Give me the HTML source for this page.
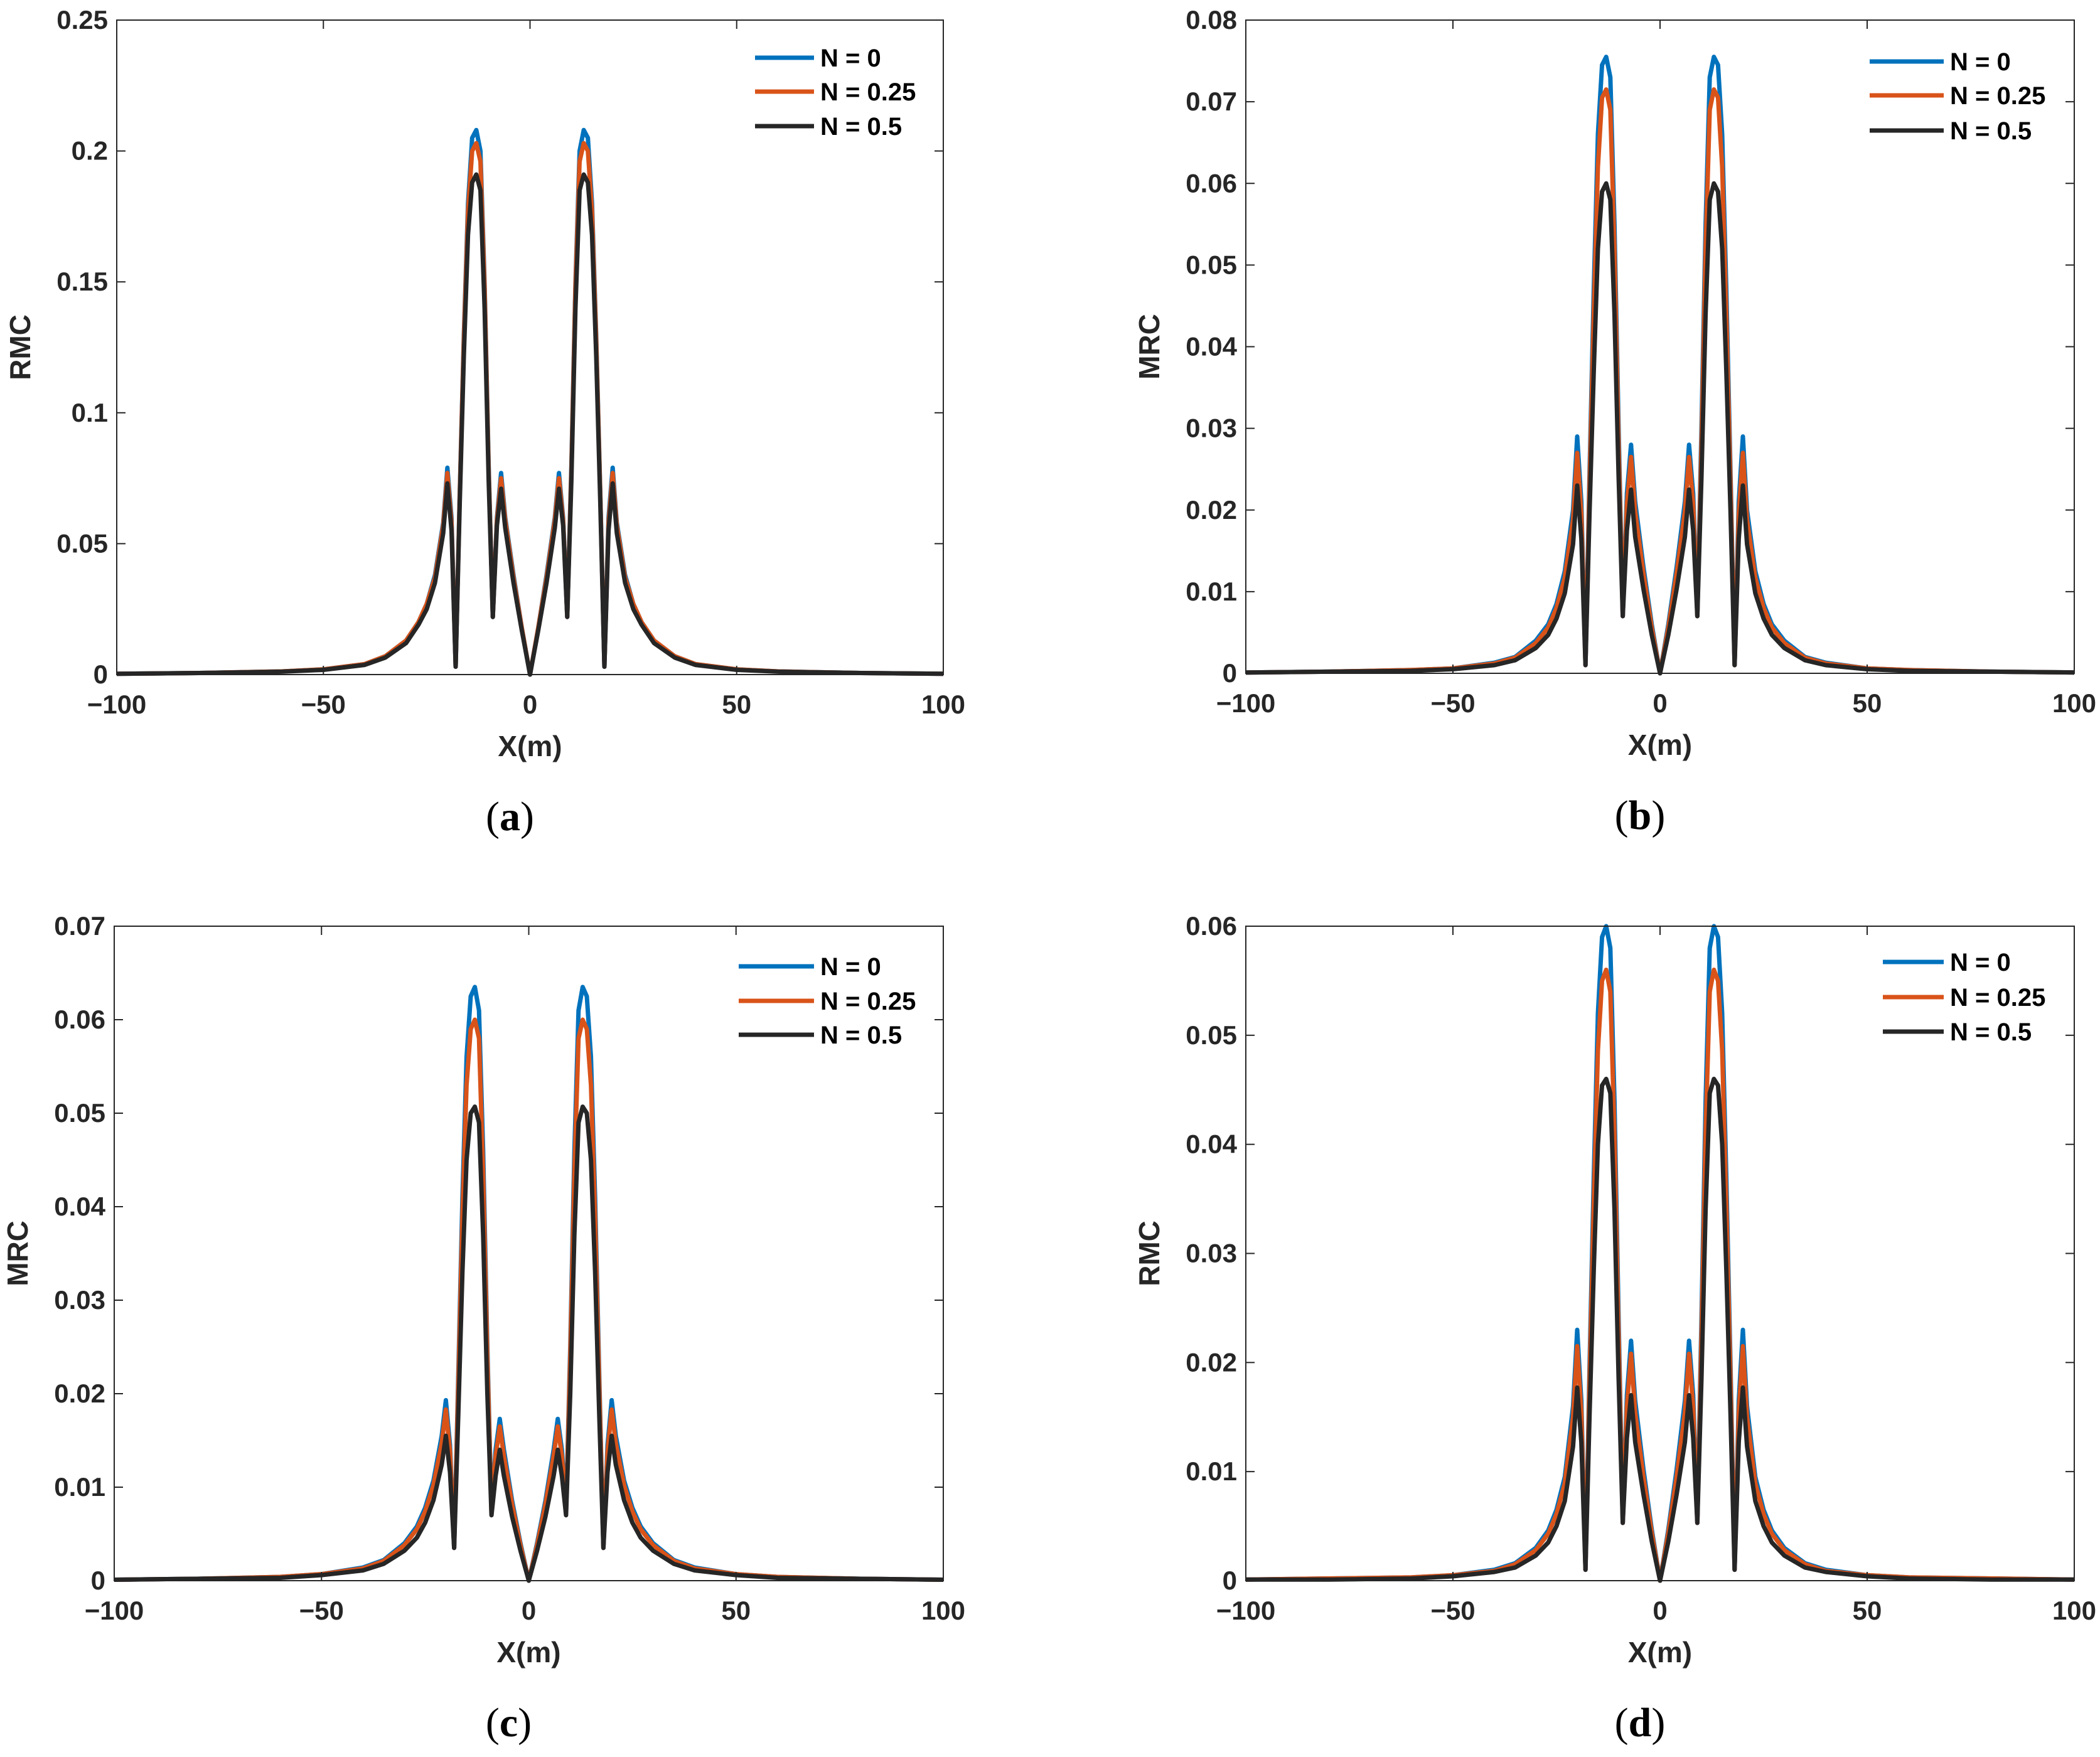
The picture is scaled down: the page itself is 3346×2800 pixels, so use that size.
<!DOCTYPE html>
<html><head><meta charset="utf-8"><style>
html,body{margin:0;padding:0;background:#fff;}
svg{display:block;}
text{font-family:"Liberation Sans",Arial,sans-serif;}
text.serif{font-family:"Liberation Serif",serif;}
</style></head><body>
<svg id="fig" width="3346" height="2800" viewBox="0 0 3346 2800" xmlns="http://www.w3.org/2000/svg"></svg>
<script>
// x positions (left half, mirrored for right half)
const xHalf = [-100,-80,-60,-50,-40,-35,-30,-27,-25,-23,-21,-20,-19,-18,-17,-16,-15,-14,-13,-12,-11,-10,-9,-8,-7,-6,-4,-2,0];
const seriesNames = ["N = 0","N = 0.25","N = 0.5"];
const xTicks = [-100,-50,0,50,100];
const xTickLabels = ["\u2212100","\u221250","0","50","100"];

const aN0  = [0.0003,0.0006,0.0012,0.002,0.004,0.007,0.013,0.02,0.027,0.038,0.058,0.079,0.06,0.003,0.07,0.13,0.18,0.205,0.208,0.2,0.15,0.08,0.022,0.06,0.077,0.06,0.038,0.018,0];
const aN25 = [0.0003,0.0006,0.0012,0.002,0.004,0.007,0.013,0.02,0.027,0.037,0.057,0.077,0.058,0.003,0.069,0.128,0.177,0.2,0.203,0.196,0.148,0.078,0.022,0.059,0.075,0.059,0.037,0.018,0];
const aN5  = [0.0003,0.0006,0.0011,0.0018,0.0037,0.0065,0.012,0.019,0.025,0.035,0.054,0.073,0.055,0.003,0.066,0.122,0.168,0.188,0.191,0.185,0.14,0.074,0.022,0.057,0.071,0.056,0.035,0.017,0];

const bN0  = [0.0001,0.0002,0.0004,0.0006,0.0013,0.002,0.004,0.006,0.0085,0.0125,0.02,0.029,0.021,0.001,0.025,0.047,0.066,0.0745,0.0755,0.073,0.055,0.03,0.007,0.022,0.028,0.021,0.013,0.006,0];
const bN25 = [0.0001,0.0002,0.0004,0.0006,0.0012,0.0019,0.0037,0.0056,0.008,0.0117,0.0188,0.027,0.0195,0.001,0.0235,0.044,0.062,0.0705,0.0715,0.069,0.052,0.028,0.007,0.0207,0.0265,0.0198,0.0122,0.0056,0];
const bN5  = [0.0001,0.0002,0.0003,0.0005,0.001,0.0016,0.0031,0.0047,0.0067,0.0098,0.0158,0.023,0.0165,0.001,0.02,0.037,0.052,0.059,0.060,0.058,0.044,0.024,0.007,0.0175,0.0225,0.0167,0.0103,0.0047,0];

const cN0  = [0.0001,0.0002,0.0004,0.0007,0.0014,0.0022,0.004,0.0058,0.0078,0.0107,0.0155,0.0193,0.0145,0.0035,0.022,0.041,0.056,0.0625,0.0635,0.061,0.046,0.025,0.0075,0.014,0.0173,0.014,0.0085,0.004,0];
const cN25 = [0.0001,0.0002,0.0004,0.0007,0.0013,0.0021,0.0038,0.0055,0.0074,0.0102,0.0147,0.0183,0.0138,0.0035,0.021,0.039,0.053,0.059,0.060,0.058,0.0437,0.024,0.0072,0.0133,0.0165,0.0133,0.0081,0.0038,0];
const cN5  = [0.0001,0.0002,0.0003,0.0006,0.0011,0.0018,0.0032,0.0046,0.0062,0.0086,0.0124,0.0155,0.0116,0.0035,0.0177,0.033,0.045,0.050,0.0507,0.049,0.037,0.020,0.007,0.0112,0.014,0.0112,0.0068,0.0032,0];

const dN0  = [0.0001,0.0002,0.0003,0.0005,0.001,0.0016,0.003,0.0046,0.0065,0.0095,0.016,0.023,0.0165,0.001,0.02,0.037,0.052,0.059,0.060,0.058,0.044,0.024,0.0053,0.017,0.022,0.0165,0.0102,0.0047,0];
const dN25 = [0.0001,0.0002,0.0003,0.0005,0.0009,0.0015,0.0028,0.0043,0.0061,0.0089,0.015,0.0215,0.0154,0.001,0.0187,0.0346,0.0486,0.055,0.056,0.054,0.041,0.0224,0.0053,0.0159,0.0208,0.0154,0.0095,0.0044,0];
const dN5  = [0.0001,0.0001,0.0002,0.0004,0.0008,0.0012,0.0023,0.0035,0.005,0.0073,0.0123,0.0177,0.0127,0.001,0.0154,0.0285,0.04,0.0454,0.046,0.0447,0.034,0.0185,0.0053,0.0131,0.017,0.0127,0.0079,0.0036,0];

const aYTicks = [0,0.05,0.1,0.15,0.2,0.25];
const aYLabels = ["0","0.05","0.1","0.15","0.2","0.25"];
const bYTicks = [0,0.01,0.02,0.03,0.04,0.05,0.06,0.07,0.08];
const bYLabels = ["0","0.01","0.02","0.03","0.04","0.05","0.06","0.07","0.08"];
const cYTicks = [0,0.01,0.02,0.03,0.04,0.05,0.06,0.07];
const cYLabels = ["0","0.01","0.02","0.03","0.04","0.05","0.06","0.07"];
const dYTicks = [0,0.01,0.02,0.03,0.04,0.05,0.06];
const dYLabels = ["0","0.01","0.02","0.03","0.04","0.05","0.06"];

const colors = ["#0072BD","#D95319","#262626"];
const NS = "http://www.w3.org/2000/svg";
const svg = document.getElementById("fig");
function mk(tag, attrs, parent){const e=document.createElementNS(NS,tag);for(const k in attrs)e.setAttribute(k,attrs[k]);(parent||svg).appendChild(e);return e;}

const panels = [
 {id:"a",L:186,R:1503,T:32,B:1075,ymax:0.25,yt:aYTicks,yl:aYLabels,ylab:"RMC",s:[aN0,aN25,aN5],legY:[92,146,201],legX1:1203,legX2:1297},
 {id:"b",L:1985,R:3305,T:32,B:1073,ymax:0.08,yt:bYTicks,yl:bYLabels,ylab:"MRC",s:[bN0,bN25,bN5],legY:[98,152,208],legX1:2979,legX2:3097},
 {id:"c",L:182,R:1503,T:1476,B:2519,ymax:0.07,yt:cYTicks,yl:cYLabels,ylab:"MRC",s:[cN0,cN25,cN5],legY:[1540,1595,1649],legX1:1177,legX2:1297},
 {id:"d",L:1985,R:3305,T:1476,B:2519,ymax:0.06,yt:dYTicks,yl:dYLabels,ylab:"RMC",s:[dN0,dN25,dN5],legY:[1533,1589,1644],legX1:3000,legX2:3097}
];

panels.forEach(p=>{
  const g = mk("g",{});
  
  
  const sx = v => p.L + (v+100)/200*(p.R-p.L);
  const sy = v => p.B - v/p.ymax*(p.B-p.T);
  const xs = xHalf.concat(xHalf.slice(0,-1).reverse().map(v=>-v));
  p.s.forEach((vals,i)=>{
    const full = vals.concat(vals.slice(0,-1).reverse());
    const d = xs.map((x,j)=>(j?"L":"M")+sx(x).toFixed(1)+","+sy(full[j]).toFixed(1)).join(" ");
    const path = mk("path",{d:d,fill:"none",stroke:colors[i],"stroke-width":7,"stroke-linejoin":"round"},g);
    
    
  });
  const box = mk("rect",{x:p.L,y:p.T,width:p.R-p.L,height:p.B-p.T,fill:"none",stroke:"#262626","stroke-width":2},g);
  
  
  xTicks.forEach((t,i)=>{
    const x=sx(t);
    mk("line",{x1:x,y1:p.B,x2:x,y2:p.B-14,stroke:"#262626","stroke-width":2},g);
    mk("line",{x1:x,y1:p.T,x2:x,y2:p.T+14,stroke:"#262626","stroke-width":2},g);
    const tx=mk("text",{x:x,y:p.B+62,"text-anchor":"middle","font-size":42,"font-weight":"bold",fill:"#262626"},g);
    tx.textContent=xTickLabels[i];
    
    
  });
  p.yt.forEach((t,i)=>{
    const y=sy(t);
    mk("line",{x1:p.L,y1:y,x2:p.L+14,y2:y,stroke:"#262626","stroke-width":2},g);
    mk("line",{x1:p.R,y1:y,x2:p.R-14,y2:y,stroke:"#262626","stroke-width":2},g);
    const ty=mk("text",{x:p.L-14,y:y+14,"text-anchor":"end","font-size":42,"font-weight":"bold",fill:"#262626"},g);
    ty.textContent=p.yl[i];
    
    
  });
  const xl=mk("text",{x:(p.L+p.R)/2,y:p.B+130,"text-anchor":"middle","font-size":46,"font-weight":"bold",fill:"#262626"},g);
  xl.textContent="X(m)";
  
  
  const yx=p.L-138, yy=(p.T+p.B)/2;
  const yl=mk("text",{x:yx,y:yy,"text-anchor":"middle","font-size":46,"font-weight":"bold",fill:"#262626",transform:"rotate(-90 "+yx+" "+yy+")"},g);
  yl.textContent=p.ylab;
  
  
  const pl=mk("text",{x:(p.L+p.R)/2-32,y:p.B+248,"text-anchor":"middle","font-size":66,fill:"#000","class":"serif"},g);
  pl.innerHTML='(<tspan font-weight="bold">'+p.id+'</tspan>)';
  
  
  seriesNames.forEach((n,i)=>{
    const y=p.legY[i];
    const ln=mk("line",{x1:p.legX1,y1:y,x2:p.legX2,y2:y,stroke:colors[i],"stroke-width":7},g);
    
    
    const lt=mk("text",{x:p.legX2+10,y:y+14,"font-size":40,"font-weight":"bold",fill:"#000"},g);
    lt.textContent=n;
    
    
  });
});
</script>
</body></html>
